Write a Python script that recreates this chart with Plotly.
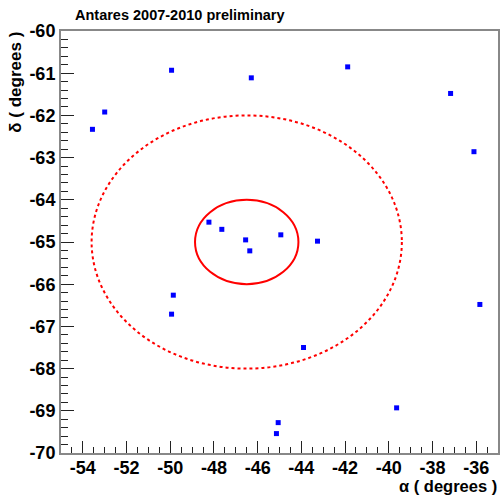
import plotly.graph_objects as go

# Event positions (right ascension alpha, declination delta), degrees
alpha = [-53.56, -53.00, -49.94, -46.29, -41.88, -37.17, -36.10,
         -48.23, -47.64, -46.55, -46.36, -44.94, -43.26,
         -49.86, -49.94, -35.83, -43.90, -39.64, -45.06, -45.14]
delta = [-62.33, -61.92, -60.93, -61.11, -60.85, -61.48, -62.86,
         -64.53, -64.70, -64.95, -65.21, -64.83, -64.98,
         -66.26, -66.71, -66.48, -67.50, -68.93, -69.28, -69.54]

# Search cones around the source
src_alpha = -46.5
src_delta = -65.0
cos_dec = 0.4226          # cos(65 deg)
r_inner = 1.0             # degrees on sky
r_outer = 3.0

x_tickvals = [-54, -52, -50, -48, -46, -44, -42, -40, -38, -36]
x_ticktext = ["-54", "-52", "-50", "-48", "-46", "-44", "-42", "-40", "-38", "-36"]
y_tickvals = [-70, -69, -68, -67, -66, -65, -64, -63, -62, -61, -60]
y_ticktext = ["-70", "-69", "-68", "-67", "-66", "-65", "-64", "-63", "-62", "-61", "-60"]

title_text = "Antares 2007-2010 preliminary"
x_title = "α ( degrees )"
y_title = "δ ( degrees )"

fig = go.Figure()
fig.add_trace(go.Scatter(
    x=alpha, y=delta, mode="markers",
    marker=dict(symbol="square", size=5, color="#0000ff", line=dict(width=0)),
    showlegend=False, hoverinfo="skip"))

for r, dash in [(r_outer, "dot"), (r_inner, "solid")]:
    fig.add_shape(type="circle", xref="x", yref="y",
                  x0=src_alpha - r / cos_dec, x1=src_alpha + r / cos_dec,
                  y0=src_delta - r, y1=src_delta + r,
                  line=dict(color="#ff0000", width=2, dash=dash))

FONT = "Liberation Sans, Arial, sans-serif"
tickfont = dict(family=FONT, size=18, color="black", weight="bold")

fig.update_layout(
    width=500, height=496,
    margin=dict(l=61, r=0, t=31, b=43),
    paper_bgcolor="white", plot_bgcolor="white",
    title=dict(text="<b>" + title_text + "</b>", x=75 / 500, xanchor="left", xref="container",
               y=1 - 15 / 496, yanchor="middle", yref="container",
               font=dict(family=FONT, size=14.5, color="black")),
    xaxis=dict(range=[-55, -35], tickmode="array", tickvals=x_tickvals, ticktext=x_ticktext,
               ticks="inside", ticklen=12, tickwidth=1, ticklabelstandoff=-3,
               tickcolor="#222", showline=True, linecolor="#888", linewidth=2, mirror=True,
               showgrid=False, zeroline=False,
               minor=dict(dtick=0.5, tick0=-55, ticks="inside", ticklen=6, tickcolor="#222"),
               tickfont=tickfont),
    yaxis=dict(range=[-70, -60], tickmode="array", tickvals=y_tickvals, ticktext=y_ticktext,
               ticks="inside", ticklen=13, tickwidth=1,
               tickcolor="#222", showline=True, linecolor="#888", linewidth=2, mirror=True,
               showgrid=False, zeroline=False,
               minor=dict(dtick=0.2, tick0=-70, ticks="inside", ticklen=7, tickcolor="#222"),
               tickfont=tickfont),
    annotations=[
        dict(text="<b>" + x_title + "</b>", xref="paper", yref="paper",
             x=1.0, xanchor="right", y=-(486 - 453) / 422, yanchor="middle",
             showarrow=False, borderpad=0, font=dict(family=FONT, size=16.5, color="black")),
        dict(text="<b>" + y_title + "</b>", xref="paper", yref="paper",
             x=(15 - 61) / 439, xanchor="center", y=(453 - 30) / 422, yanchor="top",
             textangle=-90, showarrow=False,
             font=dict(family=FONT, size=17, color="black")),
    ],
)

fig.write_html("out.html")
